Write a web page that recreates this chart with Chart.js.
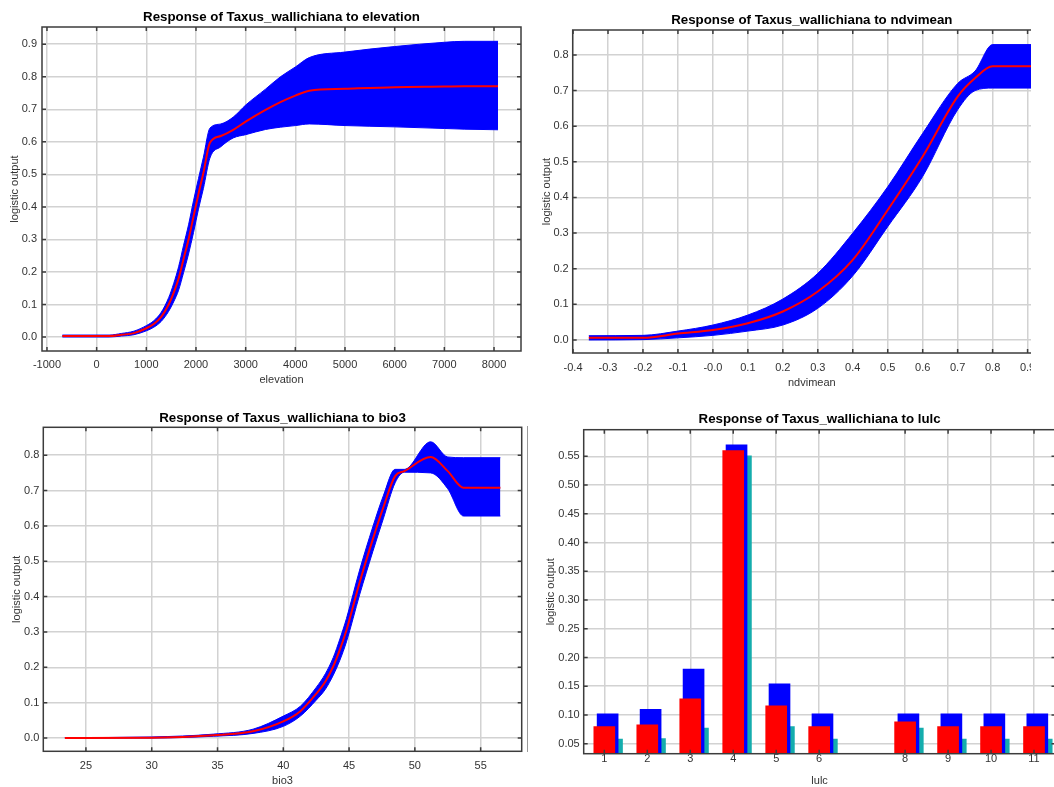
<!DOCTYPE html>
<html>
<head>
<meta charset="utf-8">
<title>Response curves</title>
<script src="https://cdn.jsdelivr.net/npm/chart.js@4.4.0/dist/chart.umd.min.js"></script>
<style>
  html, body { margin: 0; padding: 0; background: #fff; overflow: hidden; }
  body { width: 1054px; height: 787px; position: relative; }
  .panel { position: absolute; overflow: hidden; }
  .panel canvas { position: absolute; left: 0; top: 0; }
  #edge { position: absolute; left: 527px; top: 426px; width: 1px; height: 326px; background: #9a9a9a; }
</style>
</head>
<body>
<div class="panel" style="left:0;top:0;width:527px;height:393px"><canvas id="elevChart" width="527" height="393"></canvas></div>
<div class="panel" style="left:527px;top:0;width:504px;height:393px"><canvas id="ndviChart" width="530" height="393"></canvas></div>
<div class="panel" style="left:0;top:393px;width:527px;height:394px"><canvas id="bioChart" width="527" height="410"></canvas></div>
<div class="panel" style="left:527px;top:393px;width:527px;height:394px"><canvas id="lulcChart" width="540" height="410"></canvas></div>
<div id="edge"></div>
<script>
// elevation response
const elevX     = [-690, 250, 500, 750, 1000, 1150, 1300, 1450, 1550, 1650, 1750, 1850, 1950, 2050, 2150, 2280, 2500, 2750, 3000, 3400, 3700, 4000, 4280, 5000, 6000, 7000, 7400, 8080];
const elevMean  = [0.003, 0.003, 0.007, 0.012, 0.027, 0.040, 0.062, 0.100, 0.136, 0.180, 0.240, 0.300, 0.370, 0.440, 0.505, 0.597, 0.618, 0.637, 0.662, 0.698, 0.722, 0.742, 0.757, 0.763, 0.768, 0.770, 0.771, 0.771];
const elevUpper = [0.006, 0.006, 0.011, 0.018, 0.035, 0.050, 0.076, 0.121, 0.164, 0.216, 0.282, 0.345, 0.419, 0.487, 0.553, 0.642, 0.655, 0.676, 0.713, 0.762, 0.800, 0.830, 0.859, 0.876, 0.893, 0.906, 0.909, 0.909];
const elevLower = [0.000, 0.000, 0.003, 0.007, 0.019, 0.030, 0.048, 0.079, 0.108, 0.144, 0.198, 0.255, 0.321, 0.393, 0.457, 0.550, 0.585, 0.612, 0.622, 0.638, 0.645, 0.650, 0.655, 0.650, 0.646, 0.641, 0.639, 0.637];
const elevTicks = [-1000, 0, 1000, 2000, 3000, 4000, 5000, 6000, 7000, 8000];
const elevTickLabels = ['-1000', '0', '1000', '2000', '3000', '4000', '5000', '6000', '7000', '8000'];

// ndvimean response
const ndviX     = [-0.355, -0.2, -0.1, 0.0, 0.1, 0.2, 0.3, 0.4, 0.5, 0.6, 0.7, 0.75, 0.8, 0.97];
const ndviMean  = [0.006, 0.006, 0.018, 0.028, 0.047, 0.080, 0.136, 0.225, 0.365, 0.515, 0.683, 0.735, 0.768, 0.768];
const ndviUpper = [0.012, 0.013, 0.025, 0.042, 0.070, 0.115, 0.187, 0.300, 0.430, 0.580, 0.720, 0.755, 0.829, 0.829];
const ndviLower = [0.000, 0.001, 0.006, 0.013, 0.025, 0.042, 0.089, 0.180, 0.318, 0.459, 0.646, 0.700, 0.707, 0.707];
const ndviTicks = [-0.4, -0.3, -0.2, -0.1, 0, 0.1, 0.2, 0.3, 0.4, 0.5, 0.6, 0.7, 0.8, 0.9];
const ndviTickLabels = ['-0.4', '-0.3', '-0.2', '-0.1', '-0.0', '0.1', '0.2', '0.3', '0.4', '0.5', '0.6', '0.7', '0.8', '0.9'];

// bio3 response
const bioX     = [23.4, 30, 34.7, 37.7, 40.0, 41.3, 42.5, 43.2, 43.8, 44.3, 44.8, 45.8, 46.8, 47.6, 48.5, 49.2, 51.2, 52.5, 53.7, 56.5];
const bioMean  = [0.000, 0.001, 0.008, 0.019, 0.047, 0.076, 0.125, 0.160, 0.203, 0.250, 0.305, 0.440, 0.562, 0.652, 0.741, 0.755, 0.795, 0.755, 0.708, 0.708];
const bioUpper = [0.001, 0.003, 0.011, 0.025, 0.062, 0.090, 0.143, 0.182, 0.228, 0.280, 0.338, 0.475, 0.597, 0.685, 0.760, 0.760, 0.838, 0.795, 0.793, 0.793];
const bioLower = [0.000, 0.000, 0.005, 0.013, 0.033, 0.062, 0.107, 0.138, 0.178, 0.220, 0.272, 0.405, 0.527, 0.620, 0.722, 0.752, 0.750, 0.705, 0.628, 0.628];
const bioTicks = [25, 30, 35, 40, 45, 50, 55];
const bioTickLabels = ['25', '30', '35', '40', '45', '50', '55'];

// lulc (categorical) response
const lulcClasses = [1, 2, 3, 4, 5, 6, 8, 9, 10, 11];
const lulcUpper = [0.102, 0.110, 0.180, 0.570, 0.154, 0.102, 0.102, 0.102, 0.102, 0.102];
const lulcMean  = [0.080, 0.083, 0.128, 0.560, 0.116, 0.080, 0.088, 0.080, 0.080, 0.080];
const lulcLower = [0.058, 0.059, 0.077, 0.551, 0.080, 0.058, 0.077, 0.058, 0.058, 0.058];
const lulcTickLabels = ['1', '2', '3', '4', '5', '6', '8', '9', '10', '11'];

// shared y ticks
const outTicks09 = [0, 0.1, 0.2, 0.3, 0.4, 0.5, 0.6, 0.7, 0.8, 0.9];
const outLabels09 = ['0.0', '0.1', '0.2', '0.3', '0.4', '0.5', '0.6', '0.7', '0.8', '0.9'];
const outTicks08 = [0, 0.1, 0.2, 0.3, 0.4, 0.5, 0.6, 0.7, 0.8];
const outLabels08 = ['0.0', '0.1', '0.2', '0.3', '0.4', '0.5', '0.6', '0.7', '0.8'];
const lulcYTicks = [0.05, 0.10, 0.15, 0.20, 0.25, 0.30, 0.35, 0.40, 0.45, 0.50, 0.55];
const lulcYLabels = ['0.05', '0.10', '0.15', '0.20', '0.25', '0.30', '0.35', '0.40', '0.45', '0.50', '0.55'];

const BLUE = '#0000ff';
const RED  = '#ff0000';
const TEAL = '#14adad';
const GRID = '#d2d2d2';
const INK  = '#3c3c3c';

Chart.defaults.font.family = "'Liberation Sans', Arial, sans-serif";
Chart.defaults.color = '#333';
Chart.defaults.animation = false;

function pts(xs, ys) {
  return xs.map((x, i) => ({ x, y: ys[i] }));
}

// fixed-size axis so the plot box lands where the original one is
function axis(o) {
  const horizontal = o.horizontal;
  return {
    type: 'linear',
    position: horizontal ? 'bottom' : 'left',
    min: o.min, max: o.max,
    offset: false,
    afterBuildTicks: s => { s.ticks = o.ticks.map(v => ({ value: v })); },
    afterFit: s => {
      if (horizontal) { s.height = o.size; s.paddingLeft = 0; s.paddingRight = 0; }
      else { s.width = o.size; s.paddingTop = 0; s.paddingBottom = 0; }
    },
    grid: { color: GRID, lineWidth: 1.5, drawTicks: false, offset: false },
    border: { display: false },
    ticks: {
      color: '#333', font: { size: 11 }, padding: o.tickPad,
      autoSkip: false, maxRotation: 0,
      callback: (v, i) => o.labels[i],
    },
    title: {
      display: true, text: o.title, color: '#333', font: { size: 11 },
      padding: horizontal ? { top: 0, bottom: o.titlePad } : { top: o.titlePad, bottom: 0 },
    },
  };
}

function titleOpts(text, g) {
  const size = 13.3;
  const lh = size * 1.2;
  return {
    display: true, text, fullSize: false, color: '#000',
    font: { size, weight: 'bold' },
    padding: { top: g.titleY - lh / 2, bottom: g.top - g.titleY - lh / 2 },
  };
}

// frame round the plot plus short inner tick marks on all four sides
const framePlugin = {
  id: 'frame',
  afterDatasetsDraw(chart) {
    const { ctx, chartArea: a, scales } = chart;
    ctx.save();
    ctx.strokeStyle = INK;
    ctx.lineWidth = 1.5;
    ctx.beginPath();
    scales.x.ticks.forEach(t => {
      const p = scales.x.getPixelForValue(t.value);
      ctx.moveTo(p, a.top); ctx.lineTo(p, a.top + 4);
      ctx.moveTo(p, a.bottom); ctx.lineTo(p, a.bottom - 4);
    });
    scales.y.ticks.forEach(t => {
      const p = scales.y.getPixelForValue(t.value);
      ctx.moveTo(a.left, p); ctx.lineTo(a.left + 4, p);
      ctx.moveTo(a.right, p); ctx.lineTo(a.right - 4, p);
    });
    ctx.stroke();
    ctx.strokeRect(a.left, a.top, a.right - a.left, a.bottom - a.top);
    ctx.restore();
  }
};

function responseChart(id, title, d, g) {
  const line = { pointRadius: 0, cubicInterpolationMode: 'monotone' };
  return new Chart(document.getElementById(id), {
    type: 'line',
    data: {
      datasets: [
        { ...line, data: pts(d.x, d.mean), borderColor: RED, borderWidth: 2, fill: false },
        { ...line, data: pts(d.x, d.lower), borderColor: BLUE, borderWidth: 1, fill: false },
        { ...line, data: pts(d.x, d.upper), borderColor: BLUE, borderWidth: 1, backgroundColor: BLUE, fill: '-1' },
      ]
    },
    options: {
      responsive: false,
      layout: { padding: { left: 0, top: 0, bottom: 0, right: g.w - g.right } },
      plugins: { legend: { display: false }, tooltip: { enabled: false }, title: titleOpts(title, g) },
      scales: {
        x: axis({ horizontal: true, min: d.xMin, max: d.xMax, ticks: d.xTicks, labels: d.xLabels,
                  title: d.xTitle, size: g.h - g.bottom, tickPad: g.xTickPad, titlePad: g.h - g.xTitleY - 6.6 }),
        y: axis({ horizontal: false, min: d.yMin, max: d.yMax, ticks: d.yTicks, labels: d.yLabels,
                  title: 'logistic output', size: g.left, tickPad: g.yTickPad, titlePad: g.yTitleX - 6.6 }),
      }
    },
    plugins: [framePlugin]
  });
}

responseChart('elevChart', 'Response of Taxus_wallichiana to elevation',
  { x: elevX, mean: elevMean, upper: elevUpper, lower: elevLower,
    xMin: -1100, xMax: 8543, xTicks: elevTicks, xLabels: elevTickLabels, xTitle: 'elevation',
    yMin: -0.043, yMax: 0.953, yTicks: outTicks09, yLabels: outLabels09 },
  { w: 527, h: 393, left: 42, top: 27, right: 521, bottom: 351, titleY: 17, yTitleX: 15, xTitleY: 380, xTickPad: 7.5, yTickPad: 5 });

responseChart('ndviChart', 'Response of Taxus_wallichiana to ndvimean',
  { x: ndviX, mean: ndviMean, upper: ndviUpper, lower: ndviLower,
    xMin: -0.401, xMax: 0.967, xTicks: ndviTicks, xLabels: ndviTickLabels, xTitle: 'ndvimean',
    yMin: -0.0365, yMax: 0.870, yTicks: outTicks08, yLabels: outLabels08 },
  { w: 530, h: 393, left: 45.7, top: 30, right: 524, bottom: 353, titleY: 20, yTitleX: 20, xTitleY: 383.3, xTickPad: 8.3, yTickPad: 4 });

responseChart('bioChart', 'Response of Taxus_wallichiana to bio3',
  { x: bioX, mean: bioMean, upper: bioUpper, lower: bioLower,
    xMin: 21.76, xMax: 58.12, xTicks: bioTicks, xLabels: bioTickLabels, xTitle: 'bio3',
    yMin: -0.0376, yMax: 0.879, yTicks: outTicks08, yLabels: outLabels08 },
  { w: 527, h: 410, left: 43.3, top: 34.3, right: 521.7, bottom: 358.3, titleY: 25, yTitleX: 16.7, xTitleY: 387.7, xTickPad: 8, yTickPad: 4 });

// lulc: three bar series, each on its own (hidden) x axis shifted a few pixels
const lulcGeom = { w: 540, h: 410, left: 56.7, top: 36.7, right: 528.5, bottom: 360.7, titleY: 26.7, yTitleX: 24, xTitleY: 388.3, xTickPad: -1, yTickPad: 4 };
const shiftedAxis = (min, max) => ({ type: 'linear', display: false, position: 'bottom', min, max, offset: false, grid: { offset: false } });

new Chart(document.getElementById('lulcChart'), {
  type: 'bar',
  data: {
    datasets: [
      { data: pts(lulcClasses, lulcMean),  xAxisID: 'x',  backgroundColor: RED },
      { data: pts(lulcClasses, lulcUpper), xAxisID: 'xb', backgroundColor: BLUE },
      { data: pts(lulcClasses, lulcLower), xAxisID: 'xc', backgroundColor: TEAL },
    ]
  },
  options: {
    responsive: false,
    grouped: false,
    barThickness: 21,
    layout: { padding: { left: 0, top: 0, bottom: 0, right: lulcGeom.w - lulcGeom.right } },
    plugins: { legend: { display: false }, tooltip: { enabled: false },
               title: titleOpts('Response of Taxus_wallichiana to lulc', lulcGeom) },
    scales: {
      x: axis({ horizontal: true, min: 0.52, max: 11.5, ticks: lulcClasses, labels: lulcTickLabels,
                title: 'lulc', size: lulcGeom.h - lulcGeom.bottom, tickPad: lulcGeom.xTickPad,
                titlePad: lulcGeom.h - lulcGeom.xTitleY - 6.6 }),
      xb: shiftedAxis(0.443, 11.423),
      xc: shiftedAxis(0.341, 11.321),
      y: axis({ horizontal: false, min: 0.0326, max: 0.5963, ticks: lulcYTicks, labels: lulcYLabels,
                title: 'logistic output', size: lulcGeom.left, tickPad: lulcGeom.yTickPad,
                titlePad: lulcGeom.yTitleX - 6.6 }),
    }
  },
  plugins: [framePlugin]
});
</script>
</body>
</html>
